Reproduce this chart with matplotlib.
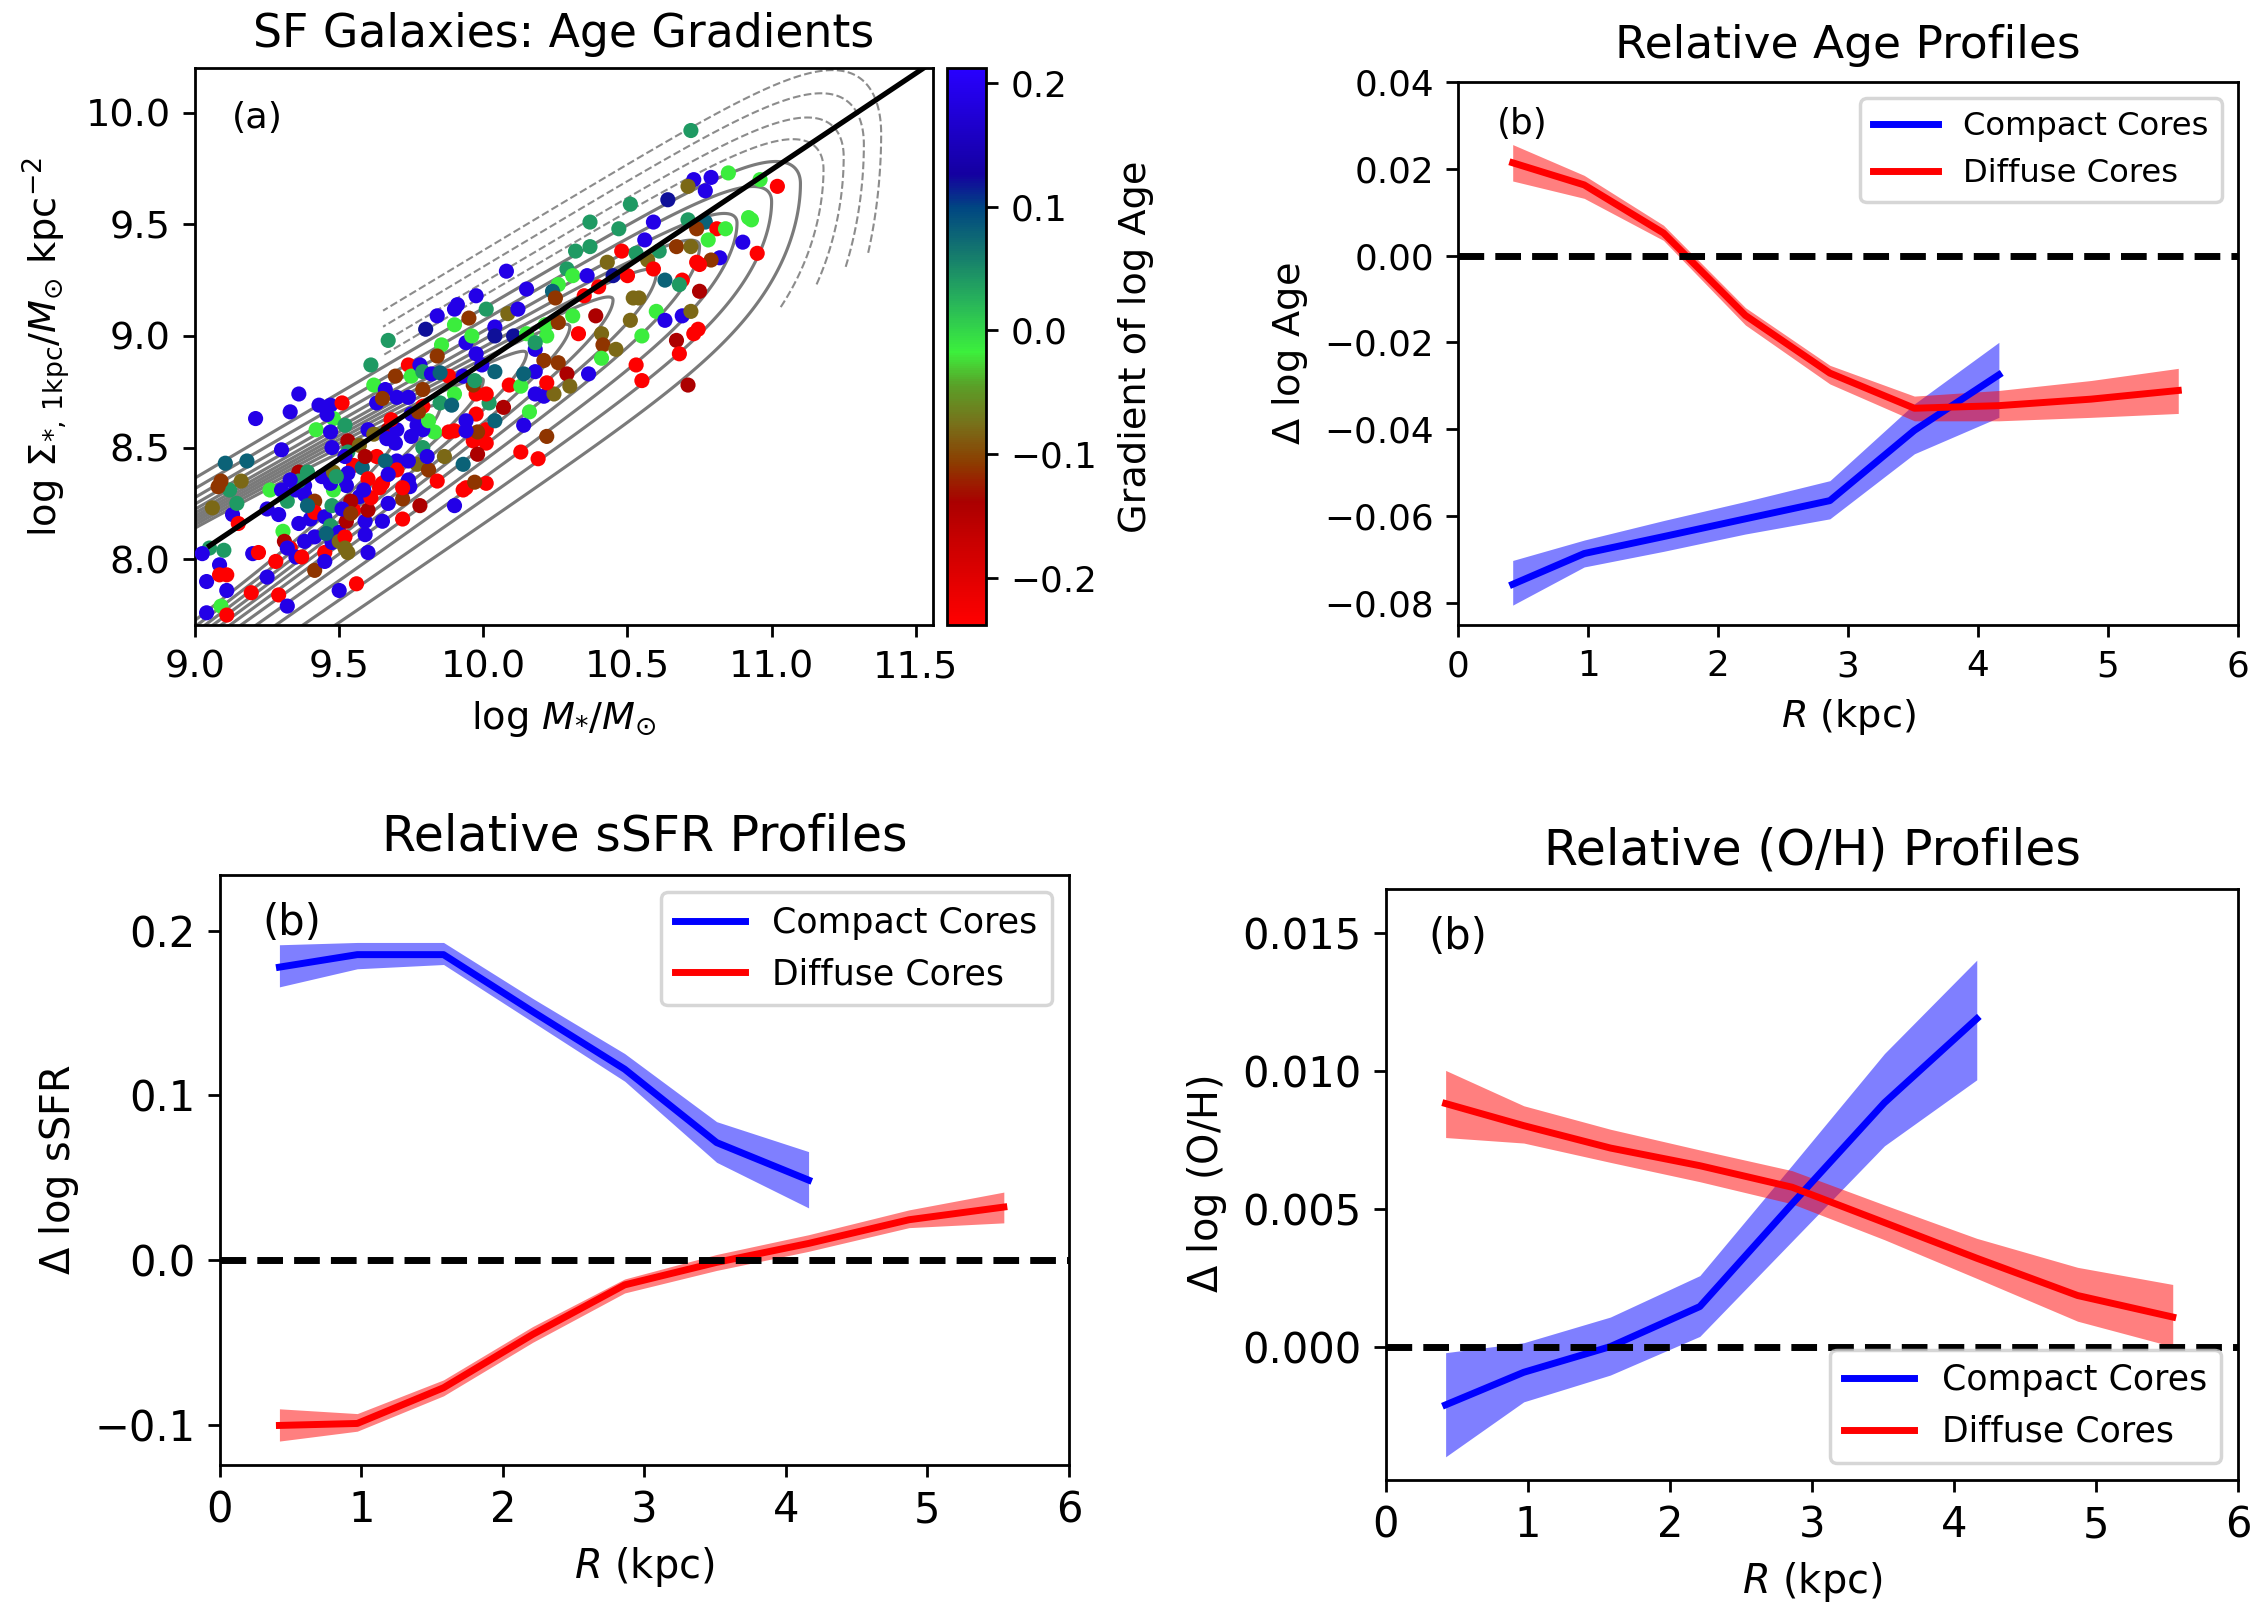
import numpy as np
import matplotlib
matplotlib.use("Agg")
import matplotlib.pyplot as plt
from matplotlib.colors import LinearSegmentedColormap
from matplotlib.lines import Line2D

# ---------------- data: panel (a) ----------------
gal_mass = [10.72, 10.73, 10.79, 10.71, 10.77, 10.85, 10.96, 11.02, 10.64, 10.51, 10.59, 10.37, 10.47, 10.71, 10.77,
            10.74, 10.81, 10.84, 10.78, 10.92, 10.93, 10.90, 10.95, 10.82, 10.79, 10.74, 10.75, 10.56, 10.67, 10.72,
            10.48, 10.53, 10.61, 10.57, 10.32, 10.37, 10.43, 10.45, 10.50, 10.59, 10.63, 10.69, 10.68, 10.75, 10.08,
            10.29, 10.31, 10.36, 10.40, 10.15, 10.26, 10.24, 10.25, 9.975, 10.01, 9.91, 9.90, 9.84, 9.95, 10.085,
            10.12, 10.04, 10.105, 10.15, 10.215, 10.26, 10.31, 10.39, 10.35, 10.33, 10.22, 10.18, 10.21, 10.26, 10.29,
            10.365, 10.41, 10.415, 10.46, 10.41, 10.52, 10.54, 10.51, 10.55, 10.60, 10.63, 10.69, 10.72, 10.745, 10.73,
            10.67, 10.68, 10.71, 10.53, 10.55, 10.18, 10.18, 10.21, 10.245, 10.30, 10.16, 10.14, 10.13, 10.19, 10.22,
            10.07, 10.02, 9.975, 10.01, 9.975, 10.01, 9.965, 10.01, 9.98, 9.94, 9.88, 9.83, 9.75, 9.75, 9.70,
            9.74, 9.85, 9.90, 9.965, 9.88, 9.93, 9.97, 10.04, 10.09, 10.13, 9.995, 9.975, 9.94, 9.96, 10.04,
            9.90, 9.855, 9.84, 9.74, 9.75, 9.78, 9.79, 9.82, 9.61, 9.62, 9.695, 9.67, 9.80, 9.36, 9.33,
            9.21, 9.43, 9.47, 9.51, 9.48, 9.63, 9.66, 9.65, 9.52, 9.42, 9.47, 9.53, 9.60, 9.62, 9.67,
            9.70, 9.77, 9.79, 9.695, 9.79, 9.90, 9.94, 9.98, 9.475, 9.53, 9.57, 9.55, 9.58, 9.63, 9.70,
            9.70, 9.77, 9.81, 9.84, 9.865, 9.93, 9.94, 10.01, 9.93, 9.90, 9.745, 9.72, 9.67, 9.65, 9.64,
            9.60, 9.525, 9.48, 9.47, 9.44, 9.36, 9.38, 9.38, 9.415, 9.26, 9.30, 9.32, 9.36, 9.40, 9.415,
            9.45, 9.47, 9.50, 9.525, 9.55, 9.59, 9.60, 9.65, 9.72, 9.78, 9.57, 9.54, 9.475, 9.51, 9.25,
            9.29, 9.305, 9.13, 9.15, 9.12, 9.09, 9.16, 9.06, 9.05, 9.10, 9.025, 9.085, 9.04, 9.085, 9.11,
            9.11, 9.195, 9.20, 9.22, 9.18, 9.105, 9.30, 9.31, 9.33, 9.28, 9.35, 9.32, 9.25, 9.29, 9.32,
            9.09, 9.11, 9.04, 9.37, 9.415, 9.45, 9.475, 9.50, 9.52, 9.52, 9.53, 9.45, 9.50, 9.56, 9.60,
            9.415, 9.38, 9.35, 9.39, 9.66, 9.74, 9.805, 9.48, 9.39, 9.36,
            9.79, 10.14, 10.22, 10.04, 9.81, 9.68, 9.79, 9.775, 9.665, 9.458, 9.52, 9.59, 9.74, 9.72, 9.67,
            9.53, 9.49, 9.33, 9.61, 9.585, 9.54, 9.97, 9.455, 9.59, 9.145, 9.08, 9.85, 10.18, 9.89]
gal_sigma = [9.92, 9.70, 9.71, 9.67, 9.65, 9.73, 9.70, 9.67, 9.61, 9.59, 9.51, 9.51, 9.48, 9.52, 9.51,
             9.48, 9.48, 9.48, 9.43, 9.53, 9.52, 9.42, 9.37, 9.35, 9.34, 9.33, 9.32, 9.43, 9.40, 9.40,
             9.38, 9.37, 9.38, 9.34, 9.38, 9.40, 9.33, 9.27, 9.27, 9.30, 9.25, 9.25, 9.23, 9.20, 9.29,
             9.30, 9.27, 9.27, 9.22, 9.21, 9.23, 9.20, 9.17, 9.18, 9.12, 9.14, 9.12, 9.09, 9.08, 9.10,
             9.12, 9.04, 9.00, 9.01, 9.05, 9.06, 9.09, 9.09, 9.18, 9.01, 9.00, 8.94, 8.89, 8.88, 8.83,
             8.83, 9.01, 8.96, 8.94, 8.90, 9.17, 9.17, 9.07, 9.00, 9.11, 9.07, 9.09, 9.11, 9.03, 9.01,
             8.98, 8.92, 8.78, 8.87, 8.80, 8.84, 8.74, 8.73, 8.74, 8.775, 8.66, 8.60, 8.48, 8.45, 8.55,
             8.68, 8.70, 8.74, 8.74, 8.65, 8.58, 8.53, 8.52, 8.57, 8.62, 8.57, 8.57, 8.55, 8.65, 8.725,
             8.725, 8.70, 8.74, 8.78, 8.82, 8.82, 8.80, 8.84, 8.78, 8.775, 8.87, 8.92, 8.97, 9.00, 9.00,
             9.05, 8.96, 8.91, 8.87, 8.82, 8.87, 8.84, 8.83, 8.87, 8.78, 8.82, 8.98, 9.03, 8.74, 8.66,
             8.63, 8.69, 8.69, 8.70, 8.63, 8.70, 8.76, 8.72, 8.60, 8.58, 8.57, 8.53, 8.58, 8.56, 8.58,
             8.58, 8.60, 8.58, 8.52, 8.50, 8.575, 8.575, 8.47, 8.50, 8.48, 8.51, 8.42, 8.41, 8.46, 8.44,
             8.40, 8.425, 8.40, 8.35, 8.46, 8.425, 8.32, 8.34, 8.31, 8.24, 8.325, 8.27, 8.25, 8.34, 8.32,
             8.36, 8.33, 8.31, 8.34, 8.37, 8.39, 8.33, 8.29, 8.26, 8.31, 8.31, 8.26, 8.16, 8.18, 8.21,
             8.19, 8.15, 8.12, 8.17, 8.22, 8.17, 8.22, 8.17, 8.18, 8.24, 8.28, 8.26, 8.24, 8.225, 8.225,
             8.20, 8.125, 8.20, 8.16, 8.31, 8.35, 8.35, 8.23, 8.05, 8.04, 8.025, 7.975, 7.90, 7.93, 7.93,
             7.86, 7.85, 8.025, 8.03, 8.44, 8.43, 8.49, 8.08, 8.05, 7.99, 8.01, 8.05, 7.92, 7.84, 7.79,
             7.79, 7.75, 7.76, 8.01, 7.95, 8.03, 8.075, 8.08, 8.10, 8.05, 8.03, 7.99, 7.86, 7.89, 8.03,
             8.10, 8.08, 8.31, 8.24, 8.44, 8.44, 8.46, 8.39, 8.39, 8.35,
             8.76, 8.83, 8.79, 8.62, 8.62, 8.625, 8.685, 8.66, 8.54, 8.648, 8.46, 8.46, 8.355, 8.32, 8.38,
             8.385, 8.37, 8.355, 8.275, 8.31, 8.205, 8.345, 8.115, 8.11, 8.25, 8.325, 8.835, 8.97, 8.69]
gal_grad = [0.04, 0.19, 0.19, -0.08, 0.19, -0.015, -0.015, -0.235, 0.12, 0.04, 0.19, 0.04, 0.04, 0.04, 0.08,
            -0.11, -0.235, -0.015, -0.015, -0.015, -0.015, 0.19, -0.235, 0.19, -0.11, -0.235, -0.235, 0.19, -0.11, -0.08,
            -0.235, 0.04, 0.04, -0.08, 0.04, 0.04, -0.08, 0.12, -0.235, -0.235, 0.08, -0.235, 0.04, -0.14, 0.19,
            0.04, -0.015, 0.19, -0.235, 0.19, -0.015, 0.08, -0.11, 0.19, 0.04, 0.19, 0.19, 0.19, -0.11, -0.08,
            0.19, 0.19, 0.12, -0.015, -0.015, -0.11, -0.015, -0.14, -0.235, -0.235, -0.015, 0.19, -0.11, -0.11, -0.14,
            0.19, -0.08, -0.11, -0.08, -0.015, -0.08, -0.08, -0.08, -0.015, -0.015, 0.19, 0.19, -0.08, -0.235, -0.235,
            -0.14, -0.235, -0.14, -0.235, -0.235, 0.19, 0.19, 0.19, -0.08, -0.08, -0.015, 0.19, -0.235, -0.235, -0.11,
            -0.14, 0.04, -0.235, -0.235, -0.235, -0.235, -0.235, -0.235, -0.11, 0.19, -0.235, -0.015, 0.19, 0.19, 0.19,
            0.19, 0.04, -0.015, -0.11, -0.235, 0.19, 0.04, 0.08, -0.235, -0.015, 0.19, 0.19, 0.19, -0.015, 0.12,
            -0.015, -0.015, -0.11, -0.235, -0.015, 0.19, 0.04, 0.19, 0.04, -0.015, -0.11, 0.04, 0.12, 0.19, 0.19,
            0.19, 0.19, 0.19, -0.235, -0.015, 0.19, 0.19, -0.11, 0.04, -0.015, 0.19, -0.14, 0.19, -0.08, -0.14,
            0.19, 0.19, 0.19, 0.19, 0.04, -0.235, 0.19, -0.14, 0.19, 0.04, -0.08, -0.235, 0.08, -0.235, 0.19,
            -0.235, -0.08, -0.11, -0.235, -0.08, 0.08, -0.235, -0.235, -0.235, 0.19, 0.19, -0.11, 0.19, -0.235, -0.235,
            -0.235, 0.19, -0.015, 0.19, 0.19, -0.14, 0.19, 0.19, -0.11, -0.015, 0.19, 0.04, 0.19, 0.19, -0.235,
            0.19, 0.04, 0.19, -0.14, -0.235, 0.19, -0.14, 0.19, -0.235, -0.14, 0.19, -0.14, 0.04, 0.19, 0.19,
            0.19, -0.015, 0.19, -0.235, 0.04, -0.11, -0.08, -0.08, 0.04, 0.04, 0.19, 0.19, 0.19, -0.235, -0.235,
            0.19, -0.235, 0.19, -0.235, 0.08, 0.08, 0.19, -0.14, -0.235, -0.235, 0.19, 0.19, 0.19, -0.235, 0.19,
            -0.015, -0.235, 0.19, -0.235, -0.11, -0.235, 0.19, -0.08, -0.235, -0.08, -0.08, 0.19, 0.19, -0.235, 0.19,
            0.19, 0.19, 0.19, 0.08, 0.08, 0.19, 0.19, -0.08, 0.04, 0.04,
            -0.11, 0.08, -0.235, 0.08, -0.015, -0.235, -0.235, -0.11, 0.19, 0.19, 0.19, -0.14, 0.19, -0.235, 0.19,
            0.19, 0.04, 0.19, -0.235, 0.19, -0.11, -0.11, 0.08, 0.19, 0.04, -0.11, 0.08, 0.04, 0.08]

# best-fit relation (end points)
fit_mass = [9.05, 11.62]
fit_sigma = [8.06, 10.28]

# background-density contours (parameters):
# ridge of the background sample, its spread below/above the ridge,
# mass-function shape, and the masses where each contour closes
ridge_mass0, ridge_sigma0, ridge_slope = 9.06, 8.05, 0.80
spread_below, spread_above = 0.30, 0.15
mf_slope, mf_cut, mf_cut_width = 0.6, 11.0, 0.2
tips_solid = [9.70, 9.85, 10.00, 10.15, 10.30, 10.45, 10.60, 10.75, 10.88, 11.00, 11.10]
tips_dashed = [11.18, 11.25, 11.32, 11.38]
dashed_min_mass, dashed_lowside_cut, dashed_min_dev = 9.65, 10.80, -0.5

# colormap anchors
cmap_pos = [0.0, 0.15, 0.22, 0.29, 0.36, 0.43, 0.49, 0.58, 0.67, 0.75, 0.81, 1.0]
cmap_col = ['#ff0000', '#c80000', '#aa0000', '#8c3c00', '#78701a', '#5aa028', '#3cf03c',
            '#28b45a', '#14786e', '#004682', '#1400a0', '#2800ff']
grad_min, grad_max = -0.238, 0.212

# ---------------- data: profiles ----------------
R_grid = [0.42, 0.97, 1.58, 2.21, 2.86, 3.51, 4.16, 4.87, 5.54]

age_c = [-0.0758, -0.0687, -0.0648, -0.0607, -0.0565, -0.0403, -0.0275]
age_c_lo = [-0.0806, -0.0718, -0.0682, -0.0642, -0.0607, -0.0457, -0.0373]
age_c_hi = [-0.0703, -0.0656, -0.0611, -0.0567, -0.0519, -0.0342, -0.0200]
age_d = [0.0214, 0.0163, 0.0052, -0.0138, -0.0271, -0.0352, -0.0346, -0.0331, -0.0311]
age_d_lo = [0.0172, 0.0132, 0.0035, -0.0160, -0.0296, -0.0381, -0.0381, -0.0373, -0.0364]
age_d_hi = [0.0256, 0.0185, 0.0070, -0.0120, -0.0253, -0.0324, -0.0311, -0.0288, -0.0260]

ssfr_c = [0.178, 0.1856, 0.1856, 0.151, 0.116, 0.0714, 0.0486]
ssfr_c_lo = [0.166, 0.177, 0.1796, 0.1447, 0.1087, 0.0594, 0.0317]
ssfr_c_hi = [0.1916, 0.193, 0.193, 0.159, 0.1255, 0.0841, 0.0659]
ssfr_d = [-0.1005, -0.0993, -0.0776, -0.0452, -0.0151, -0.0014, 0.0101, 0.0245, 0.0322]
ssfr_d_lo = [-0.110, -0.104, -0.0825, -0.050, -0.020, -0.0063, 0.0053, 0.0197, 0.0226]
ssfr_d_hi = [-0.0904, -0.0933, -0.0728, -0.0404, -0.0115, 0.0034, 0.0154, 0.0305, 0.0413]

oh_c = [-0.00208, -0.0009, 0.00003, 0.00148, 0.0052, 0.00886, 0.0119]
oh_c_lo = [-0.00396, -0.00197, -0.0010, 0.0004, 0.00385, 0.0073, 0.00969]
oh_c_hi = [-0.00019, 0.00017, 0.0011, 0.0026, 0.0066, 0.01064, 0.01402]
oh_d = [0.00883, 0.00803, 0.00722, 0.00658, 0.0058, 0.00452, 0.00323, 0.00188, 0.0011]
oh_d_lo = [0.0076, 0.0074, 0.0067, 0.0060, 0.0052, 0.0039, 0.0025, 0.00095, 0.00003]
oh_d_hi = [0.01003, 0.00875, 0.0079, 0.00715, 0.0064, 0.00516, 0.00395, 0.0029, 0.00228]

series_labels = ['Compact Cores', 'Diffuse Cores']

# ---------------- figure ----------------
plt.rcParams['font.family'] = ['DejaVu Sans']
fig = plt.figure(figsize=(2268 / 250, 1604 / 250), dpi=250)

# ---- panel (a)
ax_a = fig.add_axes([0.0860, 0.6103, 0.3254, 0.3473])
cax = fig.add_axes([0.4176, 0.6103, 0.0172, 0.3473])


def log_mf(m):
    return -mf_slope * (m - 9.0) - np.exp((m - mf_cut) / mf_cut_width)


gx = np.linspace(8.5, 11.9, 600)
gy = np.linspace(7.2, 10.8, 600)
GX, GY = np.meshgrid(gx, gy)
dev = GY - (ridge_sigma0 + ridge_slope * (GX - ridge_mass0))
spread = np.where(dev < 0, spread_below, spread_above)
logdens = log_mf(GX) - dev ** 2 / (2 * spread ** 2)
lev_solid = sorted(log_mf(np.array(tips_solid)))
lev_dashed = sorted(log_mf(np.array(tips_dashed)))
dash_mask = (((dev < 0) & (GX < dashed_lowside_cut)) | (GX < dashed_min_mass)
             | (dev < dashed_min_dev))
logdens_dash = np.ma.masked_where(dash_mask, logdens)
ax_a.contour(GX, GY, logdens, levels=lev_solid, colors='0.48', linewidths=0.9,
             linestyles='solid', zorder=1)
ax_a.contour(GX, GY, logdens_dash, levels=lev_dashed, colors='0.55', linewidths=0.6,
             linestyles='dashed', zorder=1)

cmap = LinearSegmentedColormap.from_list('agegrad', list(zip(cmap_pos, cmap_col)))
sc = ax_a.scatter(gal_mass, gal_sigma, c=gal_grad, cmap=cmap, vmin=grad_min, vmax=grad_max,
                  s=19, edgecolors='none', zorder=3)
ax_a.plot(fit_mass, fit_sigma, color='k', lw=1.5, zorder=4)
ax_a.set_xlim(9.0, 11.56)
ax_a.set_ylim(7.705, 10.20)
ax_a.set_xticks([9.0, 9.5, 10.0, 10.5, 11.0, 11.5])
ax_a.set_yticks([8.0, 8.5, 9.0, 9.5, 10.0])
ax_a.tick_params(labelsize=11)
ax_a.set_xlabel(r'log $M_{*}/M_{\odot}$', fontsize=11)
ax_a.set_ylabel(r'log $\Sigma_{*,\,\rm 1kpc}/M_{\odot}$ kpc$^{-2}$', fontsize=11)
ax_a.set_title('SF Galaxies: Age Gradients', fontsize=13.2, pad=6)
ax_a.text(0.05, 0.94, '(a)', transform=ax_a.transAxes, va='top', ha='left', fontsize=10.5)
cb = fig.colorbar(sc, cax=cax)
cb.set_ticks([-0.2, -0.1, 0.0, 0.1, 0.2])
cb.ax.tick_params(labelsize=10.3)
cb.set_label('Gradient of log Age', fontsize=11, labelpad=6)


def profile(ax, yc, yc_lo, yc_hi, yd, yd_lo, yd_hi, ylim, yticks, ylabel, title, legloc,
            tick_fs, label_fs, title_fs, leg_fs, title_pad):
    rc = R_grid[:len(yc)]
    rd = R_grid[:len(yd)]
    ax.fill_between(rc, yc_lo, yc_hi, color='b', alpha=0.5, lw=0)
    ax.fill_between(rd, yd_lo, yd_hi, color='r', alpha=0.5, lw=0)
    ax.plot(rc, yc, color='b', lw=2)
    ax.plot(rd, yd, color='r', lw=2)
    ax.axhline(0, color='k', ls='--', lw=2)
    ax.set_xlim(0, 6)
    ax.set_ylim(*ylim)
    ax.set_yticks(yticks)
    ax.tick_params(labelsize=tick_fs)
    ax.set_xlabel(r'$R$ (kpc)', fontsize=label_fs)
    ax.set_ylabel(ylabel, fontsize=label_fs)
    ax.set_title(title, fontsize=title_fs, pad=title_pad)
    ax.text(0.05, 0.955, '(b)', transform=ax.transAxes, va='top', ha='left', fontsize=tick_fs)
    handles = [Line2D([], [], color='b', lw=2), Line2D([], [], color='r', lw=2)]
    ax.legend(handles, series_labels, loc=legloc, fontsize=leg_fs)


ax_b = fig.add_axes([0.6429, 0.6103, 0.3439, 0.3385])
profile(ax_b, age_c, age_c_lo, age_c_hi, age_d, age_d_lo, age_d_hi, (-0.0852, 0.04),
        [-0.08, -0.06, -0.04, -0.02, 0.0, 0.02, 0.04], r'$\Delta$ log Age', 'Relative Age Profiles',
        'upper right', 10.3, 11, 13.1, 9.3, 7)

ax_c = fig.add_axes([0.0970, 0.0867, 0.3743, 0.3678])
profile(ax_c, ssfr_c, ssfr_c_lo, ssfr_c_hi, ssfr_d, ssfr_d_lo, ssfr_d_hi, (-0.1245, 0.234),
        [-0.1, 0.0, 0.1, 0.2], r'$\Delta$ log sSFR', 'Relative sSFR Profiles', 'upper right',
        12, 11.5, 14.1, 10, 7)

ax_d = fig.add_axes([0.6111, 0.0773, 0.3757, 0.3685])
profile(ax_d, oh_c, oh_c_lo, oh_c_hi, oh_d, oh_d_lo, oh_d_hi, (-0.0048, 0.0166),
        [0.0, 0.005, 0.010, 0.015], r'$\Delta$ log (O/H)', 'Relative (O/H) Profiles', 'lower right',
        12, 11.5, 14.1, 10, 7)

fig.savefig('out.png', dpi=250)
